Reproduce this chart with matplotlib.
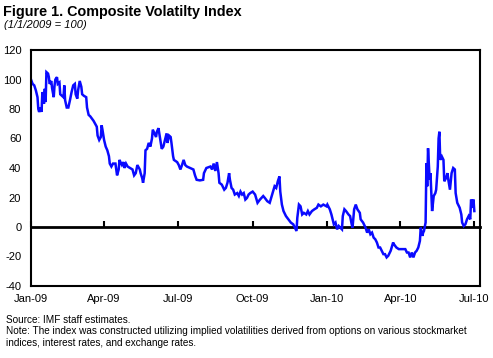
import numpy as np
import matplotlib
matplotlib.use("Agg")
import matplotlib.pyplot as plt

plt.rcParams['font.family'] = ['Liberation Sans', 'DejaVu Sans']

# ---- data (days since 2009-01-01, index value) ----
day_offsets = [
    0, 2, 4, 6, 8, 9, 10, 12, 13, 14, 16, 17, 18, 19, 21, 22, 23, 25, 26, 28,
    29, 30, 32, 33, 35, 36, 38, 40, 41, 42, 44, 46, 48, 50, 52, 54, 55, 57, 58, 60,
    62, 63, 65, 68, 69, 71, 73, 75, 77, 79, 81, 82, 84, 86, 87, 88, 90, 92, 94, 96,
    97, 99, 101, 104, 106, 108, 109, 111, 112, 114, 115, 117, 119, 122, 125, 127, 129, 131, 134, 135,
    137, 138, 140, 141, 143, 145, 147, 149, 150, 152, 154, 155, 157, 159, 161, 163, 165, 167, 168, 170,
    172, 173, 175, 176, 180, 182, 184, 186, 188, 190, 192, 196, 200, 202, 204, 208, 212, 213, 216, 221,
    223, 225, 227, 229, 231, 232, 235, 238, 240, 242, 244, 245, 247, 249, 251, 254, 256, 258, 260, 262,
    264, 266, 268, 270,
    273, 276, 279, 282, 286, 288, 291, 294, 297, 300, 302, 304, 306, 307, 309, 311, 314, 317, 320, 323,
    325, 327, 328, 330, 332, 334, 336, 339, 341, 343, 346, 349, 352, 354, 357, 360, 364, 365, 368, 370,
    373, 375, 377, 379, 381, 383, 384, 386, 388, 391, 393, 395, 396, 398, 400, 402, 405, 406, 409, 412,
    414, 416, 418, 420, 422, 424, 426, 428, 430, 432, 434, 436, 438, 440, 443, 446, 447, 450, 453, 456,
    459, 461, 463, 465, 467, 469, 471, 473, 475, 477, 479, 480, 482, 483, 484, 486, 487, 488, 489, 491,
    492, 493, 494, 496, 498, 499, 501, 502, 503, 504, 506, 508, 509, 511, 513, 514, 516, 518, 520, 522,
    523, 525, 528, 530, 531, 533, 535, 537, 539, 541, 542, 544, 545, 546,
]
index_values = [
    100, 97, 96, 92.6, 88, 80, 78, 81, 78, 91.5, 83.6, 93.7, 84.7, 105, 104, 101.6, 97, 99, 94, 88,
    96, 100, 101.6, 97, 98, 90, 89, 88, 96, 86, 81, 81, 86, 91.5, 96, 97, 90, 87, 92.6, 99,
    95, 90, 89, 88, 81, 76, 75, 73.5, 72, 70, 68, 62, 59, 61, 69, 66, 59, 54.5, 52, 48,
    43, 41, 43, 43, 35, 39, 45.5, 43, 42, 44, 40, 43, 41, 40, 39, 35, 36.5, 42, 39, 36.5,
    33, 30, 36.5, 52, 53, 57, 54.5, 60, 66, 63.5, 61, 64.5, 67, 60, 53, 54.5, 59, 63.5, 57, 62,
    61, 57, 48, 45.5, 44, 42, 39, 42, 45.5, 42, 41, 40, 39, 35, 32, 31.6, 32, 36.5, 40, 41,
    39, 43, 38, 44, 36.5, 30, 28.7, 25.3, 26.5, 30, 36.5, 32, 26.5, 25.3, 22, 23, 21, 24, 22, 23,
    18.6, 19.7, 22, 23,
    24, 22, 16.4, 18.6, 21, 19.7, 17.5, 16.4, 22, 27.6, 26.5, 31, 34.3, 24, 15.2, 10.8, 7.4, 5.2, 3, 1.8,
    -0.4, -2.7, 6.3, 15.2, 14, 8.5, 9.6, 8.5, 10.8, 8.5, 10.8, 12, 13, 15.2, 14, 15.2, 14, 15.2, 12, 8.5,
    1.8, 3, -1.6, 0.7, -0.4, -1.6, 7.4, 12, 10.8, 8.5, 7.4, 1.8, -0.4, 12, 15.2, 12, 9.6, 5.2, 3, -0.4,
    -3.8, -1.6, -4.9, -3.8, -7.2, -8.3, -10.5, -13.9, -13.9, -16.1, -18.4, -18.4, -20.6, -19.5, -16.1, -10.5, -11.7, -13.9, -15, -15,
    -15, -15, -17.3, -17.3, -20.6, -17.3, -20.6, -17.3, -16.1, -13.9, -9.4, -0.4, -6, -3.8, -2.7, 3, 43.3, 27.6, 53.4, 32,
    36.5, 23, 10.8, 21, 23, 25.3, 41, 60, 64.6, 45.5, 47.8, 45.5, 31, 33, 36.5, 32, 25.3, 36.5, 40, 39,
    23, 16.4, 13, 8.5, 3, 0.7, 1.8, 5.2, 7.4, 5.2, 18.6, 13, 18.6, 10.8,
]
tick_dates = ['2009-01-01', '2009-04-01', '2009-07-01', '2009-10-01',
              '2010-01-01', '2010-04-01', '2010-07-01']
tick_labels = ['Jan-09', 'Apr-09', 'Jul-09', 'Oct-09', 'Jan-10', 'Apr-10', 'Jul-10']
y_ticks = [-40, -20, 0, 20, 40, 60, 80, 100, 120]

title = 'Figure 1. Composite Volatilty Index'
subtitle = '(1/1/2009 = 100)'
source = 'Source: IMF staff estimates.'
note = ('Note: The index was constructed utilizing implied volatilities derived from options on various stockmarket\n'
        'indices, interest rates, and exchange rates.')

# ---- figure ----
W, H = 493, 358
fig = plt.figure(figsize=(W / 100, H / 100), dpi=100)
ax = fig.add_axes([31 / W, 1 - 286 / H, (480 - 31) / W, (286 - 50) / H])

base = np.datetime64('2009-01-01')
dates = base + np.array(day_offsets).astype('timedelta64[D]')
ax.plot(dates, index_values, color='#0a0aff', lw=1.8, solid_joinstyle='miter')

ax.set_xlim(base, base + np.timedelta64(553, 'D'))
ax.set_ylim(-40, 120)
ax.set_yticks(y_ticks)
ax.set_yticklabels([str(v) for v in y_ticks])
tk = np.array(tick_dates, dtype='datetime64[D]')
ax.set_xticks(tk)
ax.set_xticklabels(tick_labels)
ax.tick_params(axis='both', length=0, labelsize=8, colors='black')
ax.tick_params(axis='y', pad=7)
ax.tick_params(axis='x', pad=6)
for s in ax.spines.values():
    s.set_linewidth(1.5)

# zero line with upward ticks
sec = ax.secondary_xaxis(0.25)
sec.set_xticks(tk)
sec.tick_params(axis='x', direction='in', length=4, width=1.5, labelbottom=False)
sec.spines['bottom'].set_linewidth(2)

fig.text(3 / W, 1 - 12 / H, title, fontsize=10.4, fontweight='bold', va='center', ha='left')
fig.text(4 / W, 1 - 25 / H, subtitle, fontsize=8, style='italic', va='center', ha='left')
fig.text(6 / W, 1 - 320 / H, source, fontsize=7.2, va='center', ha='left')
fig.text(6 / W, 1 - 326 / H, note, fontsize=7.2, va='top', ha='left', linespacing=1.2)

fig.savefig('out.png', dpi=100)
